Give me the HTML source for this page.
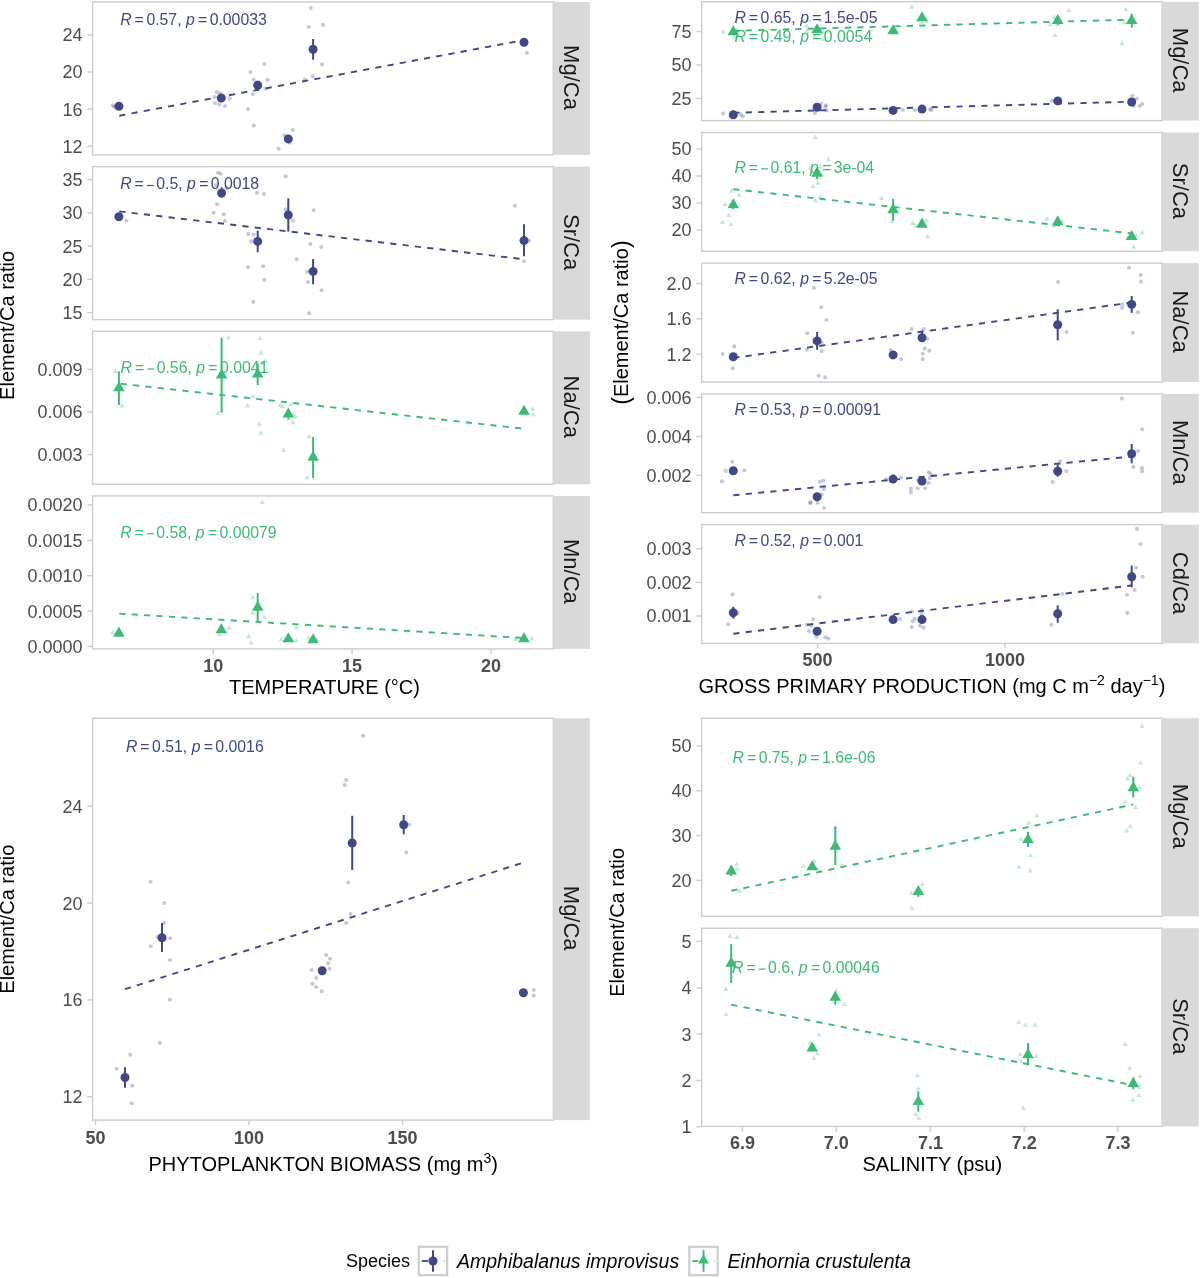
<!DOCTYPE html>
<html><head><meta charset="utf-8"><style>
html,body{margin:0;padding:0;background:#fff;}
svg{display:block;will-change:transform;}
text{font-family:'Liberation Sans', sans-serif;}
</style></head><body>
<svg width="1200" height="1278" viewBox="0 0 1200 1278">
<rect x="0" y="0" width="1200" height="1278" fill="#fff"/>
<rect x="92.6" y="2.0" width="460.69999999999993" height="152.95" fill="#fff" stroke="#CCCCCC" stroke-width="1.4"/>
<rect x="553.3" y="2.0" width="36.60000000000002" height="152.95" fill="#D9D9D9"/>
<text x="0" y="0" transform="translate(563.70,77.47) rotate(90)" text-anchor="middle" font-size="22" fill="#1A1A1A">Mg/Ca</text>
<rect x="92.6" y="166.65" width="460.69999999999993" height="152.95000000000002" fill="#fff" stroke="#CCCCCC" stroke-width="1.4"/>
<rect x="553.3" y="166.65" width="36.60000000000002" height="152.95000000000002" fill="#D9D9D9"/>
<text x="0" y="0" transform="translate(563.70,242.12) rotate(90)" text-anchor="middle" font-size="22" fill="#1A1A1A">Sr/Ca</text>
<rect x="92.6" y="331.3" width="460.69999999999993" height="152.95" fill="#fff" stroke="#CCCCCC" stroke-width="1.4"/>
<rect x="553.3" y="331.3" width="36.60000000000002" height="152.95" fill="#D9D9D9"/>
<text x="0" y="0" transform="translate(563.70,406.77) rotate(90)" text-anchor="middle" font-size="22" fill="#1A1A1A">Na/Ca</text>
<rect x="92.6" y="495.95" width="460.69999999999993" height="152.95" fill="#fff" stroke="#CCCCCC" stroke-width="1.4"/>
<rect x="553.3" y="495.95" width="36.60000000000002" height="152.95" fill="#D9D9D9"/>
<text x="0" y="0" transform="translate(563.70,571.42) rotate(90)" text-anchor="middle" font-size="22" fill="#1A1A1A">Mn/Ca</text>
<line x1="87.3" y1="34.9" x2="92.6" y2="34.9" stroke="#CCCCCC" stroke-width="1.4"/>
<text x="82.50" y="41.30" text-anchor="end" font-size="18" fill="#4D4D4D">24</text>
<line x1="87.3" y1="72.0" x2="92.6" y2="72.0" stroke="#CCCCCC" stroke-width="1.4"/>
<text x="82.50" y="78.40" text-anchor="end" font-size="18" fill="#4D4D4D">20</text>
<line x1="87.3" y1="109.1" x2="92.6" y2="109.1" stroke="#CCCCCC" stroke-width="1.4"/>
<text x="82.50" y="115.50" text-anchor="end" font-size="18" fill="#4D4D4D">16</text>
<line x1="87.3" y1="146.2" x2="92.6" y2="146.2" stroke="#CCCCCC" stroke-width="1.4"/>
<text x="82.50" y="152.60" text-anchor="end" font-size="18" fill="#4D4D4D">12</text>
<line x1="87.3" y1="179.6" x2="92.6" y2="179.6" stroke="#CCCCCC" stroke-width="1.4"/>
<text x="82.50" y="186.00" text-anchor="end" font-size="18" fill="#4D4D4D">35</text>
<line x1="87.3" y1="212.85" x2="92.6" y2="212.85" stroke="#CCCCCC" stroke-width="1.4"/>
<text x="82.50" y="219.25" text-anchor="end" font-size="18" fill="#4D4D4D">30</text>
<line x1="87.3" y1="246.1" x2="92.6" y2="246.1" stroke="#CCCCCC" stroke-width="1.4"/>
<text x="82.50" y="252.50" text-anchor="end" font-size="18" fill="#4D4D4D">25</text>
<line x1="87.3" y1="279.35" x2="92.6" y2="279.35" stroke="#CCCCCC" stroke-width="1.4"/>
<text x="82.50" y="285.75" text-anchor="end" font-size="18" fill="#4D4D4D">20</text>
<line x1="87.3" y1="312.6" x2="92.6" y2="312.6" stroke="#CCCCCC" stroke-width="1.4"/>
<text x="82.50" y="319.00" text-anchor="end" font-size="18" fill="#4D4D4D">15</text>
<line x1="87.3" y1="369.3" x2="92.6" y2="369.3" stroke="#CCCCCC" stroke-width="1.4"/>
<text x="82.50" y="375.70" text-anchor="end" font-size="18" fill="#4D4D4D">0.009</text>
<line x1="87.3" y1="411.95" x2="92.6" y2="411.95" stroke="#CCCCCC" stroke-width="1.4"/>
<text x="82.50" y="418.35" text-anchor="end" font-size="18" fill="#4D4D4D">0.006</text>
<line x1="87.3" y1="454.6" x2="92.6" y2="454.6" stroke="#CCCCCC" stroke-width="1.4"/>
<text x="82.50" y="461.00" text-anchor="end" font-size="18" fill="#4D4D4D">0.003</text>
<line x1="87.3" y1="504.9" x2="92.6" y2="504.9" stroke="#CCCCCC" stroke-width="1.4"/>
<text x="82.50" y="511.30" text-anchor="end" font-size="18" fill="#4D4D4D">0.0020</text>
<line x1="87.3" y1="540.3" x2="92.6" y2="540.3" stroke="#CCCCCC" stroke-width="1.4"/>
<text x="82.50" y="546.70" text-anchor="end" font-size="18" fill="#4D4D4D">0.0015</text>
<line x1="87.3" y1="575.7" x2="92.6" y2="575.7" stroke="#CCCCCC" stroke-width="1.4"/>
<text x="82.50" y="582.10" text-anchor="end" font-size="18" fill="#4D4D4D">0.0010</text>
<line x1="87.3" y1="611.1" x2="92.6" y2="611.1" stroke="#CCCCCC" stroke-width="1.4"/>
<text x="82.50" y="617.50" text-anchor="end" font-size="18" fill="#4D4D4D">0.0005</text>
<line x1="87.3" y1="646.5" x2="92.6" y2="646.5" stroke="#CCCCCC" stroke-width="1.4"/>
<text x="82.50" y="652.90" text-anchor="end" font-size="18" fill="#4D4D4D">0.0000</text>
<line x1="213.2" y1="648.9" x2="213.2" y2="654.1999999999999" stroke="#CCCCCC" stroke-width="1.4"/>
<text x="213.20" y="671.80" text-anchor="middle" font-size="18" font-weight="bold" fill="#4D4D4D">10</text>
<line x1="352.1" y1="648.9" x2="352.1" y2="654.1999999999999" stroke="#CCCCCC" stroke-width="1.4"/>
<text x="352.10" y="671.80" text-anchor="middle" font-size="18" font-weight="bold" fill="#4D4D4D">15</text>
<line x1="491.0" y1="648.9" x2="491.0" y2="654.1999999999999" stroke="#CCCCCC" stroke-width="1.4"/>
<text x="491.00" y="671.80" text-anchor="middle" font-size="18" font-weight="bold" fill="#4D4D4D">20</text>
<text x="324.5" y="693.6" text-anchor="middle" font-size="20" fill="#000">TEMPERATURE (°C)</text>
<text x="0" y="0" transform="translate(13.90,325.40) rotate(-90)" text-anchor="middle" font-size="20" fill="#000">Element/Ca ratio</text>
<line x1="119.3" y1="115.7" x2="524" y2="40.1" stroke="#404888" stroke-width="1.9" stroke-dasharray="6.2 6.2"/>
<circle cx="112.7" cy="105.3" r="2.05" fill="#404888" fill-opacity="0.3"/>
<circle cx="114" cy="107" r="2.05" fill="#404888" fill-opacity="0.3"/>
<circle cx="216.7" cy="92" r="2.05" fill="#404888" fill-opacity="0.3"/>
<circle cx="220" cy="93.3" r="2.05" fill="#404888" fill-opacity="0.3"/>
<circle cx="214.4" cy="97" r="2.05" fill="#404888" fill-opacity="0.3"/>
<circle cx="214.9" cy="103" r="2.05" fill="#404888" fill-opacity="0.3"/>
<circle cx="219.3" cy="104.4" r="2.05" fill="#404888" fill-opacity="0.3"/>
<circle cx="224.9" cy="106" r="2.05" fill="#404888" fill-opacity="0.3"/>
<circle cx="229.7" cy="98.4" r="2.05" fill="#404888" fill-opacity="0.3"/>
<circle cx="310.7" cy="8" r="2.05" fill="#404888" fill-opacity="0.3"/>
<circle cx="308.8" cy="27.1" r="2.05" fill="#404888" fill-opacity="0.3"/>
<circle cx="322.9" cy="24.9" r="2.05" fill="#404888" fill-opacity="0.3"/>
<circle cx="264.4" cy="64" r="2.05" fill="#404888" fill-opacity="0.3"/>
<circle cx="250.4" cy="72.1" r="2.05" fill="#404888" fill-opacity="0.3"/>
<circle cx="253.7" cy="79.7" r="2.05" fill="#404888" fill-opacity="0.3"/>
<circle cx="267.6" cy="79.9" r="2.05" fill="#404888" fill-opacity="0.3"/>
<circle cx="266.1" cy="88.7" r="2.05" fill="#404888" fill-opacity="0.3"/>
<circle cx="252.9" cy="94" r="2.05" fill="#404888" fill-opacity="0.3"/>
<circle cx="248" cy="109.1" r="2.05" fill="#404888" fill-opacity="0.3"/>
<circle cx="253.7" cy="125.6" r="2.05" fill="#404888" fill-opacity="0.3"/>
<circle cx="322.1" cy="64.4" r="2.05" fill="#404888" fill-opacity="0.3"/>
<circle cx="312.7" cy="76.4" r="2.05" fill="#404888" fill-opacity="0.3"/>
<circle cx="304.9" cy="79.6" r="2.05" fill="#404888" fill-opacity="0.3"/>
<circle cx="292.9" cy="130" r="2.05" fill="#404888" fill-opacity="0.3"/>
<circle cx="284.4" cy="135.3" r="2.05" fill="#404888" fill-opacity="0.3"/>
<circle cx="289.6" cy="142.7" r="2.05" fill="#404888" fill-opacity="0.3"/>
<circle cx="278.7" cy="148.7" r="2.05" fill="#404888" fill-opacity="0.3"/>
<circle cx="526.9" cy="52.9" r="2.05" fill="#404888" fill-opacity="0.3"/>
<circle cx="118.9" cy="106.3" r="4.5" fill="#404888"/>
<circle cx="221.3" cy="98" r="4.5" fill="#404888"/>
<line x1="257.7" y1="80.7" x2="257.7" y2="90.7" stroke="#404888" stroke-width="2"/>
<circle cx="257.7" cy="85.3" r="4.5" fill="#404888"/>
<line x1="313.1" y1="39" x2="313.1" y2="59.7" stroke="#404888" stroke-width="2"/>
<circle cx="313.1" cy="49.3" r="4.5" fill="#404888"/>
<circle cx="288.3" cy="138.9" r="4.5" fill="#404888"/>
<circle cx="524" cy="42.3" r="4.5" fill="#404888"/>
<text y="24.7" font-size="15.8" fill="#404888"><tspan x="120.20" font-style="italic">R</tspan><tspan x="134.60">=</tspan><tspan x="146.40">0.57,</tspan><tspan x="185.94" font-style="italic">p</tspan><tspan x="198.03">=</tspan><tspan x="209.66">0.00033</tspan></text>
<line x1="119.3" y1="211.4" x2="524" y2="259.3" stroke="#404888" stroke-width="1.9" stroke-dasharray="6.2 6.2"/>
<circle cx="126.4" cy="220.7" r="2.05" fill="#404888" fill-opacity="0.3"/>
<circle cx="218" cy="172.7" r="2.05" fill="#404888" fill-opacity="0.3"/>
<circle cx="220.7" cy="173.7" r="2.05" fill="#404888" fill-opacity="0.3"/>
<circle cx="216" cy="185" r="2.05" fill="#404888" fill-opacity="0.3"/>
<circle cx="226.7" cy="188.3" r="2.05" fill="#404888" fill-opacity="0.3"/>
<circle cx="217" cy="204.3" r="2.05" fill="#404888" fill-opacity="0.3"/>
<circle cx="213.6" cy="212.7" r="2.05" fill="#404888" fill-opacity="0.3"/>
<circle cx="223.7" cy="214.3" r="2.05" fill="#404888" fill-opacity="0.3"/>
<circle cx="224.9" cy="220.7" r="2.05" fill="#404888" fill-opacity="0.3"/>
<circle cx="248.3" cy="233.9" r="2.05" fill="#404888" fill-opacity="0.3"/>
<circle cx="253.6" cy="234.6" r="2.05" fill="#404888" fill-opacity="0.3"/>
<circle cx="251.1" cy="241.4" r="2.05" fill="#404888" fill-opacity="0.3"/>
<circle cx="248" cy="267.3" r="2.05" fill="#404888" fill-opacity="0.3"/>
<circle cx="263.1" cy="266.3" r="2.05" fill="#404888" fill-opacity="0.3"/>
<circle cx="264.4" cy="279.7" r="2.05" fill="#404888" fill-opacity="0.3"/>
<circle cx="253.3" cy="301.9" r="2.05" fill="#404888" fill-opacity="0.3"/>
<circle cx="285.7" cy="176.3" r="2.05" fill="#404888" fill-opacity="0.3"/>
<circle cx="257.1" cy="193" r="2.05" fill="#404888" fill-opacity="0.3"/>
<circle cx="264" cy="193.9" r="2.05" fill="#404888" fill-opacity="0.3"/>
<circle cx="285.7" cy="209.4" r="2.05" fill="#404888" fill-opacity="0.3"/>
<circle cx="292.9" cy="220.6" r="2.05" fill="#404888" fill-opacity="0.3"/>
<circle cx="313.7" cy="210.3" r="2.05" fill="#404888" fill-opacity="0.3"/>
<circle cx="310.3" cy="244.1" r="2.05" fill="#404888" fill-opacity="0.3"/>
<circle cx="321.3" cy="247" r="2.05" fill="#404888" fill-opacity="0.3"/>
<circle cx="296.7" cy="259.3" r="2.05" fill="#404888" fill-opacity="0.3"/>
<circle cx="307.3" cy="271.7" r="2.05" fill="#404888" fill-opacity="0.3"/>
<circle cx="308" cy="282.1" r="2.05" fill="#404888" fill-opacity="0.3"/>
<circle cx="321.6" cy="290.3" r="2.05" fill="#404888" fill-opacity="0.3"/>
<circle cx="309.1" cy="313.3" r="2.05" fill="#404888" fill-opacity="0.3"/>
<circle cx="514.9" cy="205.7" r="2.05" fill="#404888" fill-opacity="0.3"/>
<circle cx="524" cy="261.3" r="2.05" fill="#404888" fill-opacity="0.3"/>
<circle cx="529" cy="240.6" r="2.05" fill="#404888" fill-opacity="0.3"/>
<circle cx="118.9" cy="216.7" r="4.5" fill="#404888"/>
<line x1="221.6" y1="188.7" x2="221.6" y2="197.7" stroke="#404888" stroke-width="2"/>
<circle cx="221.6" cy="193" r="4.5" fill="#404888"/>
<line x1="257.7" y1="230.7" x2="257.7" y2="252.3" stroke="#404888" stroke-width="2"/>
<circle cx="257.7" cy="241.4" r="4.5" fill="#404888"/>
<line x1="288.3" y1="198.3" x2="288.3" y2="231.7" stroke="#404888" stroke-width="2"/>
<circle cx="288.3" cy="215" r="4.5" fill="#404888"/>
<line x1="313.1" y1="259" x2="313.1" y2="284.3" stroke="#404888" stroke-width="2"/>
<circle cx="313.1" cy="271.4" r="4.5" fill="#404888"/>
<line x1="524" y1="224.3" x2="524" y2="256.3" stroke="#404888" stroke-width="2"/>
<circle cx="524" cy="240.6" r="4.5" fill="#404888"/>
<line x1="147.00" y1="185.50" x2="153.80" y2="185.50" stroke="#404888" stroke-width="1.2"/>
<text y="189.4" font-size="15.8" fill="#404888"><tspan x="120.20" font-style="italic">R</tspan><tspan x="134.60">=</tspan><tspan x="156.30">0.5,</tspan><tspan x="187.05" font-style="italic">p</tspan><tspan x="199.14">=</tspan><tspan x="210.77">0.0018</tspan></text>
<line x1="120.7" y1="383.7" x2="524" y2="428.8" stroke="#3BBB75" stroke-width="1.9" stroke-dasharray="6.2 6.2"/>
<path d="M115.30,368.37L117.98,373.02L112.62,373.02ZM122.00,402.77L124.68,407.43L119.32,407.43ZM228.30,334.77L230.98,339.43L225.62,339.43ZM218.00,410.37L220.68,415.02L215.32,415.02ZM247.70,402.77L250.38,407.43L245.02,407.43ZM260.00,335.67L262.68,340.32L257.32,340.32ZM260.90,350.07L263.58,354.72L258.22,354.72ZM265.70,358.07L268.38,362.72L263.02,362.72ZM262.00,360.07L264.68,364.72L259.32,364.72ZM252.90,393.37L255.58,398.02L250.22,398.02ZM259.30,421.37L261.98,426.02L256.62,426.02ZM260.70,430.07L263.38,434.72L258.02,434.72ZM280.00,402.37L282.68,407.02L277.32,407.02ZM282.40,403.27L285.08,407.93L279.72,407.93ZM291.10,401.67L293.78,406.32L288.42,406.32ZM293.30,411.67L295.98,416.32L290.62,416.32ZM295.70,413.97L298.38,418.62L293.02,418.62ZM292.90,419.67L295.58,424.32L290.22,424.32ZM283.60,447.27L286.28,451.93L280.92,451.93ZM309.30,433.67L311.98,438.32L306.62,438.32ZM307.30,474.97L309.98,479.62L304.62,479.62ZM532.70,406.37L535.38,411.02L530.02,411.02ZM533.30,411.67L535.98,416.32L530.62,416.32Z" fill="#3BBB75" fill-opacity="0.3"/>
<line x1="118.9" y1="371.3" x2="118.9" y2="405.1" stroke="#3BBB75" stroke-width="2"/>
<path d="M118.90,381.20L124.70,391.25L113.10,391.25Z" fill="#3BBB75"/>
<line x1="221.6" y1="337.6" x2="221.6" y2="412.7" stroke="#3BBB75" stroke-width="2"/>
<path d="M221.60,368.40L227.40,378.45L215.80,378.45Z" fill="#3BBB75"/>
<line x1="257.7" y1="363.5" x2="257.7" y2="385.1" stroke="#3BBB75" stroke-width="2"/>
<path d="M257.70,367.50L263.50,377.55L251.90,377.55Z" fill="#3BBB75"/>
<line x1="288.3" y1="409" x2="288.3" y2="419.7" stroke="#3BBB75" stroke-width="2"/>
<path d="M288.30,407.50L294.10,417.55L282.50,417.55Z" fill="#3BBB75"/>
<line x1="313.1" y1="437.1" x2="313.1" y2="478" stroke="#3BBB75" stroke-width="2"/>
<path d="M313.10,450.60L318.90,460.65L307.30,460.65Z" fill="#3BBB75"/>
<path d="M524.00,404.80L529.80,414.85L518.20,414.85Z" fill="#3BBB75"/>
<line x1="147.40" y1="369.00" x2="154.20" y2="369.00" stroke="#3BBB75" stroke-width="1.2"/>
<text y="372.9" font-size="15.8" fill="#3BBB75"><tspan x="120.60" font-style="italic">R</tspan><tspan x="135.00">=</tspan><tspan x="156.70">0.56,</tspan><tspan x="196.24" font-style="italic">p</tspan><tspan x="208.33">=</tspan><tspan x="219.96">0.0041</tspan></text>
<line x1="119.3" y1="613.6" x2="524" y2="638" stroke="#3BBB75" stroke-width="1.9" stroke-dasharray="6.2 6.2"/>
<path d="M112.70,629.67L115.38,634.32L110.02,634.32ZM229.10,624.97L231.78,629.62L226.42,629.62ZM219.30,631.67L221.98,636.32L216.62,636.32ZM248.70,633.67L251.38,638.32L246.02,638.32ZM252.70,594.97L255.38,599.62L250.02,599.62ZM252.70,610.38L255.38,615.02L250.02,615.02ZM264.40,614.77L267.08,619.42L261.72,619.42ZM262.30,499.27L264.98,503.93L259.62,503.93ZM248.70,535.67L251.38,540.32L246.02,540.32ZM248.70,633.27L251.38,637.92L246.02,637.92ZM251.30,639.97L253.98,644.62L248.62,644.62ZM296.30,624.57L298.98,629.22L293.62,629.22ZM281.30,636.38L283.98,641.02L278.62,641.02ZM292.00,636.38L294.68,641.02L289.32,641.02ZM296.00,637.67L298.68,642.32L293.32,642.32ZM308.70,634.97L311.38,639.62L306.02,639.62ZM316.00,636.38L318.68,641.02L313.32,641.02ZM515.30,636.38L517.98,641.02L512.62,641.02ZM532.00,635.67L534.68,640.32L529.32,640.32Z" fill="#3BBB75" fill-opacity="0.3"/>
<path d="M118.90,626.60L124.70,636.65L113.10,636.65Z" fill="#3BBB75"/>
<path d="M221.30,623.20L227.10,633.25L215.50,633.25Z" fill="#3BBB75"/>
<line x1="257.7" y1="593.1" x2="257.7" y2="622" stroke="#3BBB75" stroke-width="2"/>
<path d="M257.70,600.80L263.50,610.85L251.90,610.85Z" fill="#3BBB75"/>
<path d="M288.30,632.30L294.10,642.35L282.50,642.35Z" fill="#3BBB75"/>
<path d="M313.10,633.20L318.90,643.25L307.30,643.25Z" fill="#3BBB75"/>
<path d="M524.00,632.30L529.80,642.35L518.20,642.35Z" fill="#3BBB75"/>
<line x1="147.00" y1="533.70" x2="153.80" y2="533.70" stroke="#3BBB75" stroke-width="1.2"/>
<text y="537.6" font-size="15.8" fill="#3BBB75"><tspan x="120.20" font-style="italic">R</tspan><tspan x="134.60">=</tspan><tspan x="156.30">0.58,</tspan><tspan x="195.84" font-style="italic">p</tspan><tspan x="207.93">=</tspan><tspan x="219.56">0.00079</tspan></text>
<rect x="701.7" y="1.8" width="460.39999999999986" height="118.8" fill="#fff" stroke="#CCCCCC" stroke-width="1.4"/>
<rect x="1162.5" y="1.8" width="36.299999999999955" height="118.8" fill="#D9D9D9"/>
<text x="0" y="0" transform="translate(1172.75,60.20) rotate(90)" text-anchor="middle" font-size="22" fill="#1A1A1A">Mg/Ca</text>
<rect x="701.7" y="132.5" width="460.39999999999986" height="118.80000000000001" fill="#fff" stroke="#CCCCCC" stroke-width="1.4"/>
<rect x="1162.5" y="132.5" width="36.299999999999955" height="118.80000000000001" fill="#D9D9D9"/>
<text x="0" y="0" transform="translate(1172.75,190.90) rotate(90)" text-anchor="middle" font-size="22" fill="#1A1A1A">Sr/Ca</text>
<rect x="701.7" y="263.2" width="460.39999999999986" height="118.80000000000001" fill="#fff" stroke="#CCCCCC" stroke-width="1.4"/>
<rect x="1162.5" y="263.2" width="36.299999999999955" height="118.80000000000001" fill="#D9D9D9"/>
<text x="0" y="0" transform="translate(1172.75,321.60) rotate(90)" text-anchor="middle" font-size="22" fill="#1A1A1A">Na/Ca</text>
<rect x="701.7" y="393.9" width="460.39999999999986" height="118.80000000000007" fill="#fff" stroke="#CCCCCC" stroke-width="1.4"/>
<rect x="1162.5" y="393.9" width="36.299999999999955" height="118.80000000000007" fill="#D9D9D9"/>
<text x="0" y="0" transform="translate(1172.75,452.30) rotate(90)" text-anchor="middle" font-size="22" fill="#1A1A1A">Mn/Ca</text>
<rect x="701.7" y="524.6" width="460.39999999999986" height="118.79999999999995" fill="#fff" stroke="#CCCCCC" stroke-width="1.4"/>
<rect x="1162.5" y="524.6" width="36.299999999999955" height="118.79999999999995" fill="#D9D9D9"/>
<text x="0" y="0" transform="translate(1172.75,583.00) rotate(90)" text-anchor="middle" font-size="22" fill="#1A1A1A">Cd/Ca</text>
<line x1="696.4000000000001" y1="31.5" x2="701.7" y2="31.5" stroke="#CCCCCC" stroke-width="1.4"/>
<text x="691.60" y="37.90" text-anchor="end" font-size="18" fill="#4D4D4D">75</text>
<line x1="696.4000000000001" y1="64.95" x2="701.7" y2="64.95" stroke="#CCCCCC" stroke-width="1.4"/>
<text x="691.60" y="71.35" text-anchor="end" font-size="18" fill="#4D4D4D">50</text>
<line x1="696.4000000000001" y1="98.4" x2="701.7" y2="98.4" stroke="#CCCCCC" stroke-width="1.4"/>
<text x="691.60" y="104.80" text-anchor="end" font-size="18" fill="#4D4D4D">25</text>
<line x1="696.4000000000001" y1="149.0" x2="701.7" y2="149.0" stroke="#CCCCCC" stroke-width="1.4"/>
<text x="691.60" y="155.40" text-anchor="end" font-size="18" fill="#4D4D4D">50</text>
<line x1="696.4000000000001" y1="176.0" x2="701.7" y2="176.0" stroke="#CCCCCC" stroke-width="1.4"/>
<text x="691.60" y="182.40" text-anchor="end" font-size="18" fill="#4D4D4D">40</text>
<line x1="696.4000000000001" y1="203.0" x2="701.7" y2="203.0" stroke="#CCCCCC" stroke-width="1.4"/>
<text x="691.60" y="209.40" text-anchor="end" font-size="18" fill="#4D4D4D">30</text>
<line x1="696.4000000000001" y1="230.0" x2="701.7" y2="230.0" stroke="#CCCCCC" stroke-width="1.4"/>
<text x="691.60" y="236.40" text-anchor="end" font-size="18" fill="#4D4D4D">20</text>
<line x1="696.4000000000001" y1="283.5" x2="701.7" y2="283.5" stroke="#CCCCCC" stroke-width="1.4"/>
<text x="691.60" y="289.90" text-anchor="end" font-size="18" fill="#4D4D4D">2.0</text>
<line x1="696.4000000000001" y1="318.85" x2="701.7" y2="318.85" stroke="#CCCCCC" stroke-width="1.4"/>
<text x="691.60" y="325.25" text-anchor="end" font-size="18" fill="#4D4D4D">1.6</text>
<line x1="696.4000000000001" y1="354.2" x2="701.7" y2="354.2" stroke="#CCCCCC" stroke-width="1.4"/>
<text x="691.60" y="360.60" text-anchor="end" font-size="18" fill="#4D4D4D">1.2</text>
<line x1="696.4000000000001" y1="397.5" x2="701.7" y2="397.5" stroke="#CCCCCC" stroke-width="1.4"/>
<text x="691.60" y="403.90" text-anchor="end" font-size="18" fill="#4D4D4D">0.006</text>
<line x1="696.4000000000001" y1="436.45" x2="701.7" y2="436.45" stroke="#CCCCCC" stroke-width="1.4"/>
<text x="691.60" y="442.85" text-anchor="end" font-size="18" fill="#4D4D4D">0.004</text>
<line x1="696.4000000000001" y1="475.4" x2="701.7" y2="475.4" stroke="#CCCCCC" stroke-width="1.4"/>
<text x="691.60" y="481.80" text-anchor="end" font-size="18" fill="#4D4D4D">0.002</text>
<line x1="696.4000000000001" y1="548.8" x2="701.7" y2="548.8" stroke="#CCCCCC" stroke-width="1.4"/>
<text x="691.60" y="555.20" text-anchor="end" font-size="18" fill="#4D4D4D">0.003</text>
<line x1="696.4000000000001" y1="582.4" x2="701.7" y2="582.4" stroke="#CCCCCC" stroke-width="1.4"/>
<text x="691.60" y="588.80" text-anchor="end" font-size="18" fill="#4D4D4D">0.002</text>
<line x1="696.4000000000001" y1="616.0" x2="701.7" y2="616.0" stroke="#CCCCCC" stroke-width="1.4"/>
<text x="691.60" y="622.40" text-anchor="end" font-size="18" fill="#4D4D4D">0.001</text>
<line x1="817.6" y1="643.4" x2="817.6" y2="648.6999999999999" stroke="#CCCCCC" stroke-width="1.4"/>
<text x="817.60" y="666.20" text-anchor="middle" font-size="18" font-weight="bold" fill="#4D4D4D">500</text>
<line x1="1005.0" y1="643.4" x2="1005.0" y2="648.6999999999999" stroke="#CCCCCC" stroke-width="1.4"/>
<text x="1005.00" y="666.20" text-anchor="middle" font-size="18" font-weight="bold" fill="#4D4D4D">1000</text>
<text x="931.9" y="692.75" text-anchor="middle" font-size="20" fill="#000">GROSS PRIMARY PRODUCTION (mg C m<tspan font-size="14" dy="-8">−2</tspan><tspan dy="8"> day</tspan><tspan font-size="14" dy="-8">−1</tspan><tspan dy="8">)</tspan></text>
<text x="0" y="0" transform="translate(628.2,322.6) rotate(-90)" text-anchor="middle" font-size="20" fill="#000"><tspan font-size="23" dy="1">(</tspan><tspan dy="-1">Element/Ca ratio</tspan><tspan font-size="23" dy="1">)</tspan></text>
<line x1="733.3" y1="30.9" x2="1131.7" y2="19.6" stroke="#3BBB75" stroke-width="1.9" stroke-dasharray="6.2 6.2"/>
<line x1="733.3" y1="112.8" x2="1131.7" y2="101.7" stroke="#404888" stroke-width="1.9" stroke-dasharray="6.2 6.2"/>
<circle cx="723.1" cy="113.6" r="2.05" fill="#404888" fill-opacity="0.3"/>
<circle cx="740.7" cy="114.4" r="2.05" fill="#404888" fill-opacity="0.3"/>
<circle cx="742.9" cy="116.3" r="2.05" fill="#404888" fill-opacity="0.3"/>
<circle cx="821.3" cy="103.7" r="2.05" fill="#404888" fill-opacity="0.3"/>
<circle cx="826" cy="105.3" r="2.05" fill="#404888" fill-opacity="0.3"/>
<circle cx="825.3" cy="106.7" r="2.05" fill="#404888" fill-opacity="0.3"/>
<circle cx="826.7" cy="110.4" r="2.05" fill="#404888" fill-opacity="0.3"/>
<circle cx="815" cy="113.1" r="2.05" fill="#404888" fill-opacity="0.3"/>
<circle cx="902.9" cy="110" r="2.05" fill="#404888" fill-opacity="0.3"/>
<circle cx="914.7" cy="110" r="2.05" fill="#404888" fill-opacity="0.3"/>
<circle cx="930" cy="109.1" r="2.05" fill="#404888" fill-opacity="0.3"/>
<circle cx="931.3" cy="110" r="2.05" fill="#404888" fill-opacity="0.3"/>
<circle cx="1051.9" cy="100.7" r="2.05" fill="#404888" fill-opacity="0.3"/>
<circle cx="1132.3" cy="95.7" r="2.05" fill="#404888" fill-opacity="0.3"/>
<circle cx="1136.7" cy="98.7" r="2.05" fill="#404888" fill-opacity="0.3"/>
<circle cx="1133.7" cy="106" r="2.05" fill="#404888" fill-opacity="0.3"/>
<circle cx="1139.7" cy="106" r="2.05" fill="#404888" fill-opacity="0.3"/>
<circle cx="1142.3" cy="104" r="2.05" fill="#404888" fill-opacity="0.3"/>
<circle cx="733.3" cy="114.7" r="4.5" fill="#404888"/>
<circle cx="817.1" cy="107.2" r="4.5" fill="#404888"/>
<circle cx="893.1" cy="110.4" r="4.5" fill="#404888"/>
<circle cx="922" cy="109.1" r="4.5" fill="#404888"/>
<circle cx="1057.7" cy="100.9" r="4.5" fill="#404888"/>
<circle cx="1131.7" cy="102" r="4.5" fill="#404888"/>
<path d="M723.30,28.98L725.98,33.62L720.62,33.62ZM737.30,27.67L739.98,32.32L734.62,32.32ZM734.00,34.38L736.68,39.02L731.32,39.02ZM809.30,17.67L811.98,22.32L806.62,22.32ZM806.70,22.97L809.38,27.62L804.02,27.62ZM806.70,28.37L809.38,33.02L804.02,33.02ZM820.70,17.67L823.38,22.32L818.02,22.32ZM823.30,29.67L825.98,34.32L820.62,34.32ZM823.30,36.38L825.98,41.02L820.62,41.02ZM814.70,33.67L817.38,38.32L812.02,38.32ZM911.70,4.08L914.38,8.73L909.02,8.73ZM897.30,28.37L899.98,33.02L894.62,33.02ZM922.00,12.38L924.68,17.02L919.32,17.02ZM926.70,18.37L929.38,23.02L924.02,23.02ZM922.00,19.67L924.68,24.32L919.32,24.32ZM1068.60,7.68L1071.28,12.33L1065.92,12.33ZM1054.30,14.37L1056.98,19.02L1051.62,19.02ZM1050.30,21.67L1052.98,26.32L1047.62,26.32ZM1055.00,32.38L1057.68,37.02L1052.32,37.02ZM1125.70,6.78L1128.38,11.43L1123.02,11.43ZM1124.30,19.67L1126.98,24.32L1121.62,24.32ZM1122.10,40.57L1124.78,45.22L1119.42,45.22Z" fill="#3BBB75" fill-opacity="0.3"/>
<path d="M733.30,25.20L739.10,35.25L727.50,35.25Z" fill="#3BBB75"/>
<path d="M817.10,23.20L822.90,33.25L811.30,33.25Z" fill="#3BBB75"/>
<path d="M893.10,24.30L898.90,34.35L887.30,34.35Z" fill="#3BBB75"/>
<path d="M922.00,11.20L927.80,21.25L916.20,21.25Z" fill="#3BBB75"/>
<line x1="1057.7" y1="16" x2="1057.7" y2="25.3" stroke="#3BBB75" stroke-width="2"/>
<path d="M1057.70,13.90L1063.50,23.95L1051.90,23.95Z" fill="#3BBB75"/>
<line x1="1131.7" y1="13.7" x2="1131.7" y2="27.7" stroke="#3BBB75" stroke-width="2"/>
<path d="M1131.70,13.90L1137.50,23.95L1125.90,23.95Z" fill="#3BBB75"/>
<text y="22.7" font-size="15.8" fill="#404888"><tspan x="734.40" font-style="italic">R</tspan><tspan x="748.80">=</tspan><tspan x="760.60">0.65,</tspan><tspan x="800.14" font-style="italic">p</tspan><tspan x="812.23">=</tspan><tspan x="823.86">1.5e-05</tspan></text>
<text y="42.4" font-size="15.8" fill="#3BBB75"><tspan x="734.40" font-style="italic">R</tspan><tspan x="748.80">=</tspan><tspan x="760.60">0.49,</tspan><tspan x="800.14" font-style="italic">p</tspan><tspan x="812.23">=</tspan><tspan x="823.86">0.0054</tspan></text>
<line x1="733.3" y1="189.2" x2="1131.7" y2="233.4" stroke="#3BBB75" stroke-width="1.9" stroke-dasharray="6.2 6.2"/>
<path d="M815.30,134.38L817.98,139.03L812.62,139.03ZM828.30,156.38L830.98,161.03L825.62,161.03ZM810.00,165.68L812.68,170.33L807.32,170.33ZM820.70,163.68L823.38,168.33L818.02,168.33ZM821.30,171.68L823.98,176.33L818.62,176.33ZM818.00,180.08L820.68,184.73L815.32,184.73ZM813.10,183.28L815.78,187.93L810.42,187.93ZM820.00,194.38L822.68,199.03L817.32,199.03ZM815.30,197.68L817.98,202.33L812.62,202.33ZM731.60,188.08L734.28,192.73L728.92,192.73ZM739.30,192.38L741.98,197.03L736.62,197.03ZM725.10,201.38L727.78,206.03L722.42,206.03ZM728.90,212.38L731.58,217.03L726.22,217.03ZM722.40,219.38L725.08,224.03L719.72,224.03ZM731.10,221.38L733.78,226.03L728.42,226.03ZM881.60,195.28L884.28,199.93L878.92,199.93ZM891.70,218.38L894.38,223.03L889.02,223.03ZM912.90,220.38L915.58,225.03L910.22,225.03ZM916.00,222.98L918.68,227.63L913.32,227.63ZM926.70,217.68L929.38,222.33L924.02,222.33ZM927.60,233.38L930.28,238.03L924.92,238.03ZM1047.00,216.08L1049.68,220.73L1044.32,220.73ZM1062.10,218.98L1064.78,223.63L1059.42,223.63ZM1053.70,222.98L1056.38,227.63L1051.02,227.63ZM1142.30,229.68L1144.98,234.33L1139.62,234.33ZM1136.30,232.98L1138.98,237.63L1133.62,237.63ZM1127.70,234.98L1130.38,239.63L1125.02,239.63ZM1133.70,244.08L1136.38,248.73L1131.02,248.73Z" fill="#3BBB75" fill-opacity="0.3"/>
<line x1="733.3" y1="201" x2="733.3" y2="209.3" stroke="#3BBB75" stroke-width="2"/>
<path d="M733.30,198.30L739.10,208.35L727.50,208.35Z" fill="#3BBB75"/>
<line x1="817.1" y1="168" x2="817.1" y2="179.3" stroke="#3BBB75" stroke-width="2"/>
<path d="M817.10,166.60L822.90,176.65L811.30,176.65Z" fill="#3BBB75"/>
<line x1="893.1" y1="198.7" x2="893.1" y2="220.7" stroke="#3BBB75" stroke-width="2"/>
<path d="M893.10,203.10L898.90,213.15L887.30,213.15Z" fill="#3BBB75"/>
<path d="M922.00,217.60L927.80,227.65L916.20,227.65Z" fill="#3BBB75"/>
<path d="M1057.70,215.20L1063.50,225.25L1051.90,225.25Z" fill="#3BBB75"/>
<path d="M1131.70,230.00L1137.50,240.05L1125.90,240.05Z" fill="#3BBB75"/>
<line x1="761.20" y1="168.80" x2="768.00" y2="168.80" stroke="#3BBB75" stroke-width="1.2"/>
<text y="172.7" font-size="15.8" fill="#3BBB75"><tspan x="734.40" font-style="italic">R</tspan><tspan x="748.80">=</tspan><tspan x="770.50">0.61,</tspan><tspan x="810.04" font-style="italic">p</tspan><tspan x="822.13">=</tspan><tspan x="833.76">3e-04</tspan></text>
<line x1="733.3" y1="357.9" x2="1131.7" y2="302.5" stroke="#404888" stroke-width="1.9" stroke-dasharray="6.2 6.2"/>
<circle cx="722.7" cy="354" r="2.05" fill="#404888" fill-opacity="0.3"/>
<circle cx="734.3" cy="346.4" r="2.05" fill="#404888" fill-opacity="0.3"/>
<circle cx="732.7" cy="368.4" r="2.05" fill="#404888" fill-opacity="0.3"/>
<circle cx="814" cy="288" r="2.05" fill="#404888" fill-opacity="0.3"/>
<circle cx="821.3" cy="307.3" r="2.05" fill="#404888" fill-opacity="0.3"/>
<circle cx="826.4" cy="320" r="2.05" fill="#404888" fill-opacity="0.3"/>
<circle cx="807.1" cy="333.3" r="2.05" fill="#404888" fill-opacity="0.3"/>
<circle cx="821.6" cy="342.7" r="2.05" fill="#404888" fill-opacity="0.3"/>
<circle cx="806.9" cy="349.7" r="2.05" fill="#404888" fill-opacity="0.3"/>
<circle cx="821.7" cy="351.1" r="2.05" fill="#404888" fill-opacity="0.3"/>
<circle cx="818.7" cy="375.7" r="2.05" fill="#404888" fill-opacity="0.3"/>
<circle cx="825.1" cy="377.3" r="2.05" fill="#404888" fill-opacity="0.3"/>
<circle cx="890.7" cy="350" r="2.05" fill="#404888" fill-opacity="0.3"/>
<circle cx="901.1" cy="359.1" r="2.05" fill="#404888" fill-opacity="0.3"/>
<circle cx="911.7" cy="329.1" r="2.05" fill="#404888" fill-opacity="0.3"/>
<circle cx="923.6" cy="329.1" r="2.05" fill="#404888" fill-opacity="0.3"/>
<circle cx="927.1" cy="338.7" r="2.05" fill="#404888" fill-opacity="0.3"/>
<circle cx="924.7" cy="348.4" r="2.05" fill="#404888" fill-opacity="0.3"/>
<circle cx="929.3" cy="350.7" r="2.05" fill="#404888" fill-opacity="0.3"/>
<circle cx="922.7" cy="353.7" r="2.05" fill="#404888" fill-opacity="0.3"/>
<circle cx="922.7" cy="359.1" r="2.05" fill="#404888" fill-opacity="0.3"/>
<circle cx="1058.1" cy="282" r="2.05" fill="#404888" fill-opacity="0.3"/>
<circle cx="1066.6" cy="332" r="2.05" fill="#404888" fill-opacity="0.3"/>
<circle cx="1129" cy="267.7" r="2.05" fill="#404888" fill-opacity="0.3"/>
<circle cx="1140.7" cy="274.9" r="2.05" fill="#404888" fill-opacity="0.3"/>
<circle cx="1141" cy="281.6" r="2.05" fill="#404888" fill-opacity="0.3"/>
<circle cx="1122.1" cy="304.4" r="2.05" fill="#404888" fill-opacity="0.3"/>
<circle cx="1122.1" cy="308" r="2.05" fill="#404888" fill-opacity="0.3"/>
<circle cx="1137.9" cy="312.3" r="2.05" fill="#404888" fill-opacity="0.3"/>
<circle cx="1133" cy="332.7" r="2.05" fill="#404888" fill-opacity="0.3"/>
<circle cx="733.3" cy="356.7" r="4.5" fill="#404888"/>
<line x1="817.1" y1="332" x2="817.1" y2="349.7" stroke="#404888" stroke-width="2"/>
<circle cx="817.1" cy="340.9" r="4.5" fill="#404888"/>
<circle cx="893.1" cy="354.9" r="4.5" fill="#404888"/>
<line x1="922" y1="330.7" x2="922" y2="341" stroke="#404888" stroke-width="2"/>
<circle cx="922" cy="337.7" r="4.5" fill="#404888"/>
<line x1="1057.7" y1="309.3" x2="1057.7" y2="340.4" stroke="#404888" stroke-width="2"/>
<circle cx="1057.7" cy="324.7" r="4.5" fill="#404888"/>
<line x1="1131.7" y1="296" x2="1131.7" y2="312.9" stroke="#404888" stroke-width="2"/>
<circle cx="1131.7" cy="304.4" r="4.5" fill="#404888"/>
<text y="284" font-size="15.8" fill="#404888"><tspan x="734.40" font-style="italic">R</tspan><tspan x="748.80">=</tspan><tspan x="760.60">0.62,</tspan><tspan x="800.14" font-style="italic">p</tspan><tspan x="812.23">=</tspan><tspan x="823.86">5.2e-05</tspan></text>
<line x1="733.3" y1="495.3" x2="1131.7" y2="456.5" stroke="#404888" stroke-width="1.9" stroke-dasharray="6.2 6.2"/>
<circle cx="732.3" cy="461.7" r="2.05" fill="#404888" fill-opacity="0.3"/>
<circle cx="725.7" cy="470.9" r="2.05" fill="#404888" fill-opacity="0.3"/>
<circle cx="744.3" cy="470.3" r="2.05" fill="#404888" fill-opacity="0.3"/>
<circle cx="722" cy="481.3" r="2.05" fill="#404888" fill-opacity="0.3"/>
<circle cx="819.7" cy="481.7" r="2.05" fill="#404888" fill-opacity="0.3"/>
<circle cx="823.3" cy="480.7" r="2.05" fill="#404888" fill-opacity="0.3"/>
<circle cx="823.7" cy="489.1" r="2.05" fill="#404888" fill-opacity="0.3"/>
<circle cx="821.7" cy="494.4" r="2.05" fill="#404888" fill-opacity="0.3"/>
<circle cx="810.7" cy="502.4" r="2.05" fill="#404888" fill-opacity="0.3"/>
<circle cx="810" cy="502.9" r="2.05" fill="#404888" fill-opacity="0.3"/>
<circle cx="817.6" cy="502.7" r="2.05" fill="#404888" fill-opacity="0.3"/>
<circle cx="824" cy="508" r="2.05" fill="#404888" fill-opacity="0.3"/>
<circle cx="886" cy="479.3" r="2.05" fill="#404888" fill-opacity="0.3"/>
<circle cx="901.1" cy="477.6" r="2.05" fill="#404888" fill-opacity="0.3"/>
<circle cx="928.9" cy="472.3" r="2.05" fill="#404888" fill-opacity="0.3"/>
<circle cx="930.7" cy="474.4" r="2.05" fill="#404888" fill-opacity="0.3"/>
<circle cx="929.7" cy="478" r="2.05" fill="#404888" fill-opacity="0.3"/>
<circle cx="928.7" cy="482.7" r="2.05" fill="#404888" fill-opacity="0.3"/>
<circle cx="918" cy="480" r="2.05" fill="#404888" fill-opacity="0.3"/>
<circle cx="917.7" cy="488.3" r="2.05" fill="#404888" fill-opacity="0.3"/>
<circle cx="925.1" cy="488.3" r="2.05" fill="#404888" fill-opacity="0.3"/>
<circle cx="910.9" cy="488.9" r="2.05" fill="#404888" fill-opacity="0.3"/>
<circle cx="910.9" cy="492.4" r="2.05" fill="#404888" fill-opacity="0.3"/>
<circle cx="1060.1" cy="461.1" r="2.05" fill="#404888" fill-opacity="0.3"/>
<circle cx="1066.3" cy="471.1" r="2.05" fill="#404888" fill-opacity="0.3"/>
<circle cx="1052.7" cy="482" r="2.05" fill="#404888" fill-opacity="0.3"/>
<circle cx="1121.9" cy="398.4" r="2.05" fill="#404888" fill-opacity="0.3"/>
<circle cx="1142.3" cy="429.3" r="2.05" fill="#404888" fill-opacity="0.3"/>
<circle cx="1138.1" cy="451.1" r="2.05" fill="#404888" fill-opacity="0.3"/>
<circle cx="1133.3" cy="466.9" r="2.05" fill="#404888" fill-opacity="0.3"/>
<circle cx="1141.9" cy="468" r="2.05" fill="#404888" fill-opacity="0.3"/>
<circle cx="1142.1" cy="471.3" r="2.05" fill="#404888" fill-opacity="0.3"/>
<circle cx="733.3" cy="470.7" r="4.5" fill="#404888"/>
<circle cx="817.1" cy="496.7" r="4.5" fill="#404888"/>
<circle cx="893.1" cy="479.1" r="4.5" fill="#404888"/>
<line x1="922" y1="476" x2="922" y2="484" stroke="#404888" stroke-width="2"/>
<circle cx="922" cy="481.1" r="4.5" fill="#404888"/>
<line x1="1057.7" y1="464.7" x2="1057.7" y2="476.7" stroke="#404888" stroke-width="2"/>
<circle cx="1057.7" cy="471.3" r="4.5" fill="#404888"/>
<line x1="1131.7" y1="444" x2="1131.7" y2="463.3" stroke="#404888" stroke-width="2"/>
<circle cx="1131.7" cy="453.7" r="4.5" fill="#404888"/>
<text y="414.7" font-size="15.8" fill="#404888"><tspan x="734.40" font-style="italic">R</tspan><tspan x="748.80">=</tspan><tspan x="760.60">0.53,</tspan><tspan x="800.14" font-style="italic">p</tspan><tspan x="812.23">=</tspan><tspan x="823.86">0.00091</tspan></text>
<line x1="733.3" y1="633.7" x2="1131.7" y2="585.5" stroke="#404888" stroke-width="1.9" stroke-dasharray="6.2 6.2"/>
<circle cx="732.4" cy="594.4" r="2.05" fill="#404888" fill-opacity="0.3"/>
<circle cx="738" cy="612.9" r="2.05" fill="#404888" fill-opacity="0.3"/>
<circle cx="728.3" cy="624.3" r="2.05" fill="#404888" fill-opacity="0.3"/>
<circle cx="819.7" cy="597" r="2.05" fill="#404888" fill-opacity="0.3"/>
<circle cx="813.1" cy="619.3" r="2.05" fill="#404888" fill-opacity="0.3"/>
<circle cx="806.9" cy="624.7" r="2.05" fill="#404888" fill-opacity="0.3"/>
<circle cx="811.1" cy="625.7" r="2.05" fill="#404888" fill-opacity="0.3"/>
<circle cx="808.9" cy="631.1" r="2.05" fill="#404888" fill-opacity="0.3"/>
<circle cx="816.4" cy="636.7" r="2.05" fill="#404888" fill-opacity="0.3"/>
<circle cx="825.3" cy="637.3" r="2.05" fill="#404888" fill-opacity="0.3"/>
<circle cx="828.3" cy="638.7" r="2.05" fill="#404888" fill-opacity="0.3"/>
<circle cx="900" cy="619.1" r="2.05" fill="#404888" fill-opacity="0.3"/>
<circle cx="912" cy="611.6" r="2.05" fill="#404888" fill-opacity="0.3"/>
<circle cx="921.6" cy="610.4" r="2.05" fill="#404888" fill-opacity="0.3"/>
<circle cx="921.6" cy="613.7" r="2.05" fill="#404888" fill-opacity="0.3"/>
<circle cx="914.7" cy="618.7" r="2.05" fill="#404888" fill-opacity="0.3"/>
<circle cx="912.7" cy="621.3" r="2.05" fill="#404888" fill-opacity="0.3"/>
<circle cx="911.7" cy="627.1" r="2.05" fill="#404888" fill-opacity="0.3"/>
<circle cx="920" cy="625.7" r="2.05" fill="#404888" fill-opacity="0.3"/>
<circle cx="923.6" cy="627.6" r="2.05" fill="#404888" fill-opacity="0.3"/>
<circle cx="1062.3" cy="594" r="2.05" fill="#404888" fill-opacity="0.3"/>
<circle cx="1051.3" cy="624.7" r="2.05" fill="#404888" fill-opacity="0.3"/>
<circle cx="1137" cy="528.9" r="2.05" fill="#404888" fill-opacity="0.3"/>
<circle cx="1140.3" cy="544" r="2.05" fill="#404888" fill-opacity="0.3"/>
<circle cx="1136.1" cy="567.7" r="2.05" fill="#404888" fill-opacity="0.3"/>
<circle cx="1142.6" cy="576.7" r="2.05" fill="#404888" fill-opacity="0.3"/>
<circle cx="1134.7" cy="590" r="2.05" fill="#404888" fill-opacity="0.3"/>
<circle cx="1127" cy="594.7" r="2.05" fill="#404888" fill-opacity="0.3"/>
<circle cx="1127.3" cy="612.9" r="2.05" fill="#404888" fill-opacity="0.3"/>
<line x1="733.3" y1="606.7" x2="733.3" y2="618.7" stroke="#404888" stroke-width="2"/>
<circle cx="733.3" cy="612.7" r="4.5" fill="#404888"/>
<circle cx="817.1" cy="631.3" r="4.5" fill="#404888"/>
<circle cx="893.1" cy="619.6" r="4.5" fill="#404888"/>
<circle cx="922" cy="619.6" r="4.5" fill="#404888"/>
<line x1="1057.7" y1="605.3" x2="1057.7" y2="622.7" stroke="#404888" stroke-width="2"/>
<circle cx="1057.7" cy="613.7" r="4.5" fill="#404888"/>
<line x1="1131.7" y1="565.6" x2="1131.7" y2="587.3" stroke="#404888" stroke-width="2"/>
<circle cx="1131.7" cy="576.7" r="4.5" fill="#404888"/>
<text y="545.6" font-size="15.8" fill="#404888"><tspan x="734.40" font-style="italic">R</tspan><tspan x="748.80">=</tspan><tspan x="760.60">0.52,</tspan><tspan x="800.14" font-style="italic">p</tspan><tspan x="812.23">=</tspan><tspan x="823.86">0.001</tspan></text>
<rect x="92.6" y="718.3" width="460.79999999999995" height="401.79999999999995" fill="#fff" stroke="#CCCCCC" stroke-width="1.4"/>
<rect x="553.4" y="718.3" width="36.39999999999998" height="401.79999999999995" fill="#D9D9D9"/>
<text x="0" y="0" transform="translate(563.70,918.20) rotate(90)" text-anchor="middle" font-size="22" fill="#1A1A1A">Mg/Ca</text>
<line x1="87.3" y1="806.3" x2="92.6" y2="806.3" stroke="#CCCCCC" stroke-width="1.4"/>
<text x="82.50" y="812.70" text-anchor="end" font-size="18" fill="#4D4D4D">24</text>
<line x1="87.3" y1="903.1" x2="92.6" y2="903.1" stroke="#CCCCCC" stroke-width="1.4"/>
<text x="82.50" y="909.50" text-anchor="end" font-size="18" fill="#4D4D4D">20</text>
<line x1="87.3" y1="999.9" x2="92.6" y2="999.9" stroke="#CCCCCC" stroke-width="1.4"/>
<text x="82.50" y="1006.30" text-anchor="end" font-size="18" fill="#4D4D4D">16</text>
<line x1="87.3" y1="1096.7" x2="92.6" y2="1096.7" stroke="#CCCCCC" stroke-width="1.4"/>
<text x="82.50" y="1103.10" text-anchor="end" font-size="18" fill="#4D4D4D">12</text>
<line x1="95.6" y1="1120.1" x2="95.6" y2="1125.3999999999999" stroke="#CCCCCC" stroke-width="1.4"/>
<text x="95.60" y="1143.70" text-anchor="middle" font-size="18" font-weight="bold" fill="#4D4D4D">50</text>
<line x1="249.0" y1="1120.1" x2="249.0" y2="1125.3999999999999" stroke="#CCCCCC" stroke-width="1.4"/>
<text x="249.00" y="1143.70" text-anchor="middle" font-size="18" font-weight="bold" fill="#4D4D4D">100</text>
<line x1="402.5" y1="1120.1" x2="402.5" y2="1125.3999999999999" stroke="#CCCCCC" stroke-width="1.4"/>
<text x="402.50" y="1143.70" text-anchor="middle" font-size="18" font-weight="bold" fill="#4D4D4D">150</text>
<text x="323.2" y="1171" text-anchor="middle" font-size="20" fill="#000">PHYTOPLANKTON BIOMASS (mg m<tspan font-size="14" dy="-8">3</tspan><tspan dy="8">)</tspan></text>
<text x="0" y="0" transform="translate(13.90,919.20) rotate(-90)" text-anchor="middle" font-size="20" fill="#000">Element/Ca ratio</text>
<line x1="125" y1="989.2" x2="523.4" y2="862.6" stroke="#404888" stroke-width="1.9" stroke-dasharray="6.2 6.2"/>
<circle cx="150.7" cy="881.7" r="2.05" fill="#404888" fill-opacity="0.3"/>
<circle cx="164.2" cy="903" r="2.05" fill="#404888" fill-opacity="0.3"/>
<circle cx="164" cy="923" r="2.05" fill="#404888" fill-opacity="0.3"/>
<circle cx="157.5" cy="937" r="2.05" fill="#404888" fill-opacity="0.3"/>
<circle cx="170.3" cy="938.3" r="2.05" fill="#404888" fill-opacity="0.3"/>
<circle cx="150.8" cy="946.2" r="2.05" fill="#404888" fill-opacity="0.3"/>
<circle cx="170" cy="960" r="2.05" fill="#404888" fill-opacity="0.3"/>
<circle cx="169.8" cy="999.7" r="2.05" fill="#404888" fill-opacity="0.3"/>
<circle cx="159.8" cy="1042.8" r="2.05" fill="#404888" fill-opacity="0.3"/>
<circle cx="130.3" cy="1054.7" r="2.05" fill="#404888" fill-opacity="0.3"/>
<circle cx="116.7" cy="1068.7" r="2.05" fill="#404888" fill-opacity="0.3"/>
<circle cx="132.3" cy="1085.8" r="2.05" fill="#404888" fill-opacity="0.3"/>
<circle cx="131.7" cy="1103.3" r="2.05" fill="#404888" fill-opacity="0.3"/>
<circle cx="363" cy="735.8" r="2.05" fill="#404888" fill-opacity="0.3"/>
<circle cx="346.2" cy="780" r="2.05" fill="#404888" fill-opacity="0.3"/>
<circle cx="344.7" cy="785" r="2.05" fill="#404888" fill-opacity="0.3"/>
<circle cx="348.3" cy="882.5" r="2.05" fill="#404888" fill-opacity="0.3"/>
<circle cx="350.6" cy="914" r="2.05" fill="#404888" fill-opacity="0.3"/>
<circle cx="409.2" cy="824.7" r="2.05" fill="#404888" fill-opacity="0.3"/>
<circle cx="406.3" cy="852.5" r="2.05" fill="#404888" fill-opacity="0.3"/>
<circle cx="346.2" cy="923" r="2.05" fill="#404888" fill-opacity="0.3"/>
<circle cx="326.2" cy="955" r="2.05" fill="#404888" fill-opacity="0.3"/>
<circle cx="330" cy="958.8" r="2.05" fill="#404888" fill-opacity="0.3"/>
<circle cx="328" cy="963.3" r="2.05" fill="#404888" fill-opacity="0.3"/>
<circle cx="329.5" cy="968.7" r="2.05" fill="#404888" fill-opacity="0.3"/>
<circle cx="311.7" cy="970" r="2.05" fill="#404888" fill-opacity="0.3"/>
<circle cx="316.3" cy="978" r="2.05" fill="#404888" fill-opacity="0.3"/>
<circle cx="312.5" cy="983.8" r="2.05" fill="#404888" fill-opacity="0.3"/>
<circle cx="316.2" cy="987" r="2.05" fill="#404888" fill-opacity="0.3"/>
<circle cx="321.7" cy="991.2" r="2.05" fill="#404888" fill-opacity="0.3"/>
<circle cx="533.7" cy="990" r="2.05" fill="#404888" fill-opacity="0.3"/>
<circle cx="533.7" cy="995.6" r="2.05" fill="#404888" fill-opacity="0.3"/>
<line x1="162" y1="923" x2="162" y2="952" stroke="#404888" stroke-width="2"/>
<circle cx="162" cy="937.8" r="4.5" fill="#404888"/>
<line x1="125" y1="1067.2" x2="125" y2="1087.8" stroke="#404888" stroke-width="2"/>
<circle cx="125" cy="1077.5" r="4.5" fill="#404888"/>
<line x1="352.2" y1="815.8" x2="352.2" y2="870" stroke="#404888" stroke-width="2"/>
<circle cx="352.2" cy="843" r="4.5" fill="#404888"/>
<line x1="403.7" y1="815" x2="403.7" y2="834.3" stroke="#404888" stroke-width="2"/>
<circle cx="403.7" cy="824.7" r="4.5" fill="#404888"/>
<circle cx="322.2" cy="970.8" r="4.5" fill="#404888"/>
<circle cx="523.4" cy="992.8" r="4.5" fill="#404888"/>
<text y="752.3" font-size="15.8" fill="#404888"><tspan x="125.90" font-style="italic">R</tspan><tspan x="140.30">=</tspan><tspan x="152.10">0.51,</tspan><tspan x="191.64" font-style="italic">p</tspan><tspan x="203.73">=</tspan><tspan x="215.36">0.0016</tspan></text>
<rect x="701.7" y="718.2" width="460.39999999999986" height="198.0999999999999" fill="#fff" stroke="#CCCCCC" stroke-width="1.4"/>
<rect x="1162.5" y="718.2" width="36.299999999999955" height="198.0999999999999" fill="#D9D9D9"/>
<text x="0" y="0" transform="translate(1172.75,816.25) rotate(90)" text-anchor="middle" font-size="22" fill="#1A1A1A">Mg/Ca</text>
<rect x="701.7" y="928.2" width="460.39999999999986" height="198.20000000000005" fill="#fff" stroke="#CCCCCC" stroke-width="1.4"/>
<rect x="1162.5" y="928.2" width="36.299999999999955" height="198.20000000000005" fill="#D9D9D9"/>
<text x="0" y="0" transform="translate(1172.75,1026.30) rotate(90)" text-anchor="middle" font-size="22" fill="#1A1A1A">Sr/Ca</text>
<line x1="696.4000000000001" y1="746.0" x2="701.7" y2="746.0" stroke="#CCCCCC" stroke-width="1.4"/>
<text x="691.60" y="752.40" text-anchor="end" font-size="18" fill="#4D4D4D">50</text>
<line x1="696.4000000000001" y1="790.8" x2="701.7" y2="790.8" stroke="#CCCCCC" stroke-width="1.4"/>
<text x="691.60" y="797.20" text-anchor="end" font-size="18" fill="#4D4D4D">40</text>
<line x1="696.4000000000001" y1="835.6" x2="701.7" y2="835.6" stroke="#CCCCCC" stroke-width="1.4"/>
<text x="691.60" y="842.00" text-anchor="end" font-size="18" fill="#4D4D4D">30</text>
<line x1="696.4000000000001" y1="880.4" x2="701.7" y2="880.4" stroke="#CCCCCC" stroke-width="1.4"/>
<text x="691.60" y="886.80" text-anchor="end" font-size="18" fill="#4D4D4D">20</text>
<line x1="696.4000000000001" y1="941.4" x2="701.7" y2="941.4" stroke="#CCCCCC" stroke-width="1.4"/>
<text x="691.60" y="947.80" text-anchor="end" font-size="18" fill="#4D4D4D">5</text>
<line x1="696.4000000000001" y1="987.75" x2="701.7" y2="987.75" stroke="#CCCCCC" stroke-width="1.4"/>
<text x="691.60" y="994.15" text-anchor="end" font-size="18" fill="#4D4D4D">4</text>
<line x1="696.4000000000001" y1="1034.1" x2="701.7" y2="1034.1" stroke="#CCCCCC" stroke-width="1.4"/>
<text x="691.60" y="1040.50" text-anchor="end" font-size="18" fill="#4D4D4D">3</text>
<line x1="696.4000000000001" y1="1080.45" x2="701.7" y2="1080.45" stroke="#CCCCCC" stroke-width="1.4"/>
<text x="691.60" y="1086.85" text-anchor="end" font-size="18" fill="#4D4D4D">2</text>
<line x1="696.4000000000001" y1="1126.8" x2="701.7" y2="1126.8" stroke="#CCCCCC" stroke-width="1.4"/>
<text x="691.60" y="1133.20" text-anchor="end" font-size="18" fill="#4D4D4D">1</text>
<line x1="742.5" y1="1126.4" x2="742.5" y2="1131.7" stroke="#CCCCCC" stroke-width="1.4"/>
<text x="742.50" y="1149.20" text-anchor="middle" font-size="18" font-weight="bold" fill="#4D4D4D">6.9</text>
<line x1="836.3" y1="1126.4" x2="836.3" y2="1131.7" stroke="#CCCCCC" stroke-width="1.4"/>
<text x="836.30" y="1149.20" text-anchor="middle" font-size="18" font-weight="bold" fill="#4D4D4D">7.0</text>
<line x1="930.4" y1="1126.4" x2="930.4" y2="1131.7" stroke="#CCCCCC" stroke-width="1.4"/>
<text x="930.40" y="1149.20" text-anchor="middle" font-size="18" font-weight="bold" fill="#4D4D4D">7.1</text>
<line x1="1024.2" y1="1126.4" x2="1024.2" y2="1131.7" stroke="#CCCCCC" stroke-width="1.4"/>
<text x="1024.20" y="1149.20" text-anchor="middle" font-size="18" font-weight="bold" fill="#4D4D4D">7.2</text>
<line x1="1117.9" y1="1126.4" x2="1117.9" y2="1131.7" stroke="#CCCCCC" stroke-width="1.4"/>
<text x="1117.90" y="1149.20" text-anchor="middle" font-size="18" font-weight="bold" fill="#4D4D4D">7.3</text>
<text x="932.3" y="1170.8" text-anchor="middle" font-size="20" fill="#000">SALINITY (psu)</text>
<text x="0" y="0" transform="translate(624.00,922.30) rotate(-90)" text-anchor="middle" font-size="20" fill="#000">Element/Ca ratio</text>
<line x1="731.3" y1="890.8" x2="1133.3" y2="804.5" stroke="#3BBB75" stroke-width="1.9" stroke-dasharray="6.2 6.2"/>
<path d="M736.70,861.47L739.38,866.12L734.02,866.12ZM737.50,865.97L740.18,870.62L734.82,870.62ZM739.20,888.17L741.88,892.82L736.52,892.82ZM803.30,863.47L805.98,868.12L800.62,868.12ZM814.20,858.47L816.88,863.12L811.52,863.12ZM817.20,865.97L819.88,870.62L814.52,870.62ZM835.30,824.38L837.98,829.02L832.62,829.02ZM842.00,862.38L844.68,867.02L839.32,867.02ZM922.20,881.38L924.88,886.02L919.52,886.02ZM911.30,890.17L913.98,894.82L908.62,894.82ZM911.70,905.17L914.38,909.82L909.02,909.82ZM1037.00,812.97L1039.68,817.62L1034.32,817.62ZM1028.80,820.17L1031.48,824.82L1026.12,824.82ZM1020.80,836.38L1023.48,841.02L1018.12,841.02ZM1030.50,852.38L1033.18,857.02L1027.82,857.02ZM1019.20,864.38L1021.88,869.02L1016.52,869.02ZM1030.30,867.97L1032.98,872.62L1027.62,872.62ZM1142.00,723.47L1144.68,728.12L1139.32,728.12ZM1140.50,759.88L1143.18,764.52L1137.82,764.52ZM1130.00,772.67L1132.68,777.32L1127.32,777.32ZM1127.50,775.67L1130.18,780.32L1124.82,780.32ZM1139.20,784.38L1141.88,789.02L1136.52,789.02ZM1125.30,798.97L1127.98,803.62L1122.62,803.62ZM1135.50,804.38L1138.18,809.02L1132.82,809.02ZM1130.30,823.47L1132.98,828.12L1127.62,828.12ZM1126.70,827.97L1129.38,832.62L1124.02,832.62Z" fill="#3BBB75" fill-opacity="0.3"/>
<line x1="731.2" y1="866" x2="731.2" y2="876" stroke="#3BBB75" stroke-width="2"/>
<path d="M731.20,864.50L737.00,874.55L725.40,874.55Z" fill="#3BBB75"/>
<path d="M812.20,860.20L818.00,870.25L806.40,870.25Z" fill="#3BBB75"/>
<line x1="835.3" y1="826.7" x2="835.3" y2="865" stroke="#3BBB75" stroke-width="2"/>
<path d="M835.30,839.70L841.10,849.75L829.50,849.75Z" fill="#3BBB75"/>
<line x1="918.3" y1="887" x2="918.3" y2="896.7" stroke="#3BBB75" stroke-width="2"/>
<path d="M918.30,885.00L924.10,895.05L912.50,895.05Z" fill="#3BBB75"/>
<line x1="1028" y1="831.7" x2="1028" y2="847" stroke="#3BBB75" stroke-width="2"/>
<path d="M1028.00,832.90L1033.80,842.95L1022.20,842.95Z" fill="#3BBB75"/>
<line x1="1133.3" y1="776.7" x2="1133.3" y2="797.5" stroke="#3BBB75" stroke-width="2"/>
<path d="M1133.30,781.30L1139.10,791.35L1127.50,791.35Z" fill="#3BBB75"/>
<text y="762.5" font-size="15.8" fill="#3BBB75"><tspan x="732.50" font-style="italic">R</tspan><tspan x="746.90">=</tspan><tspan x="758.70">0.75,</tspan><tspan x="798.24" font-style="italic">p</tspan><tspan x="810.33">=</tspan><tspan x="821.96">1.6e-06</tspan></text>
<line x1="731.3" y1="1004.7" x2="1133.3" y2="1085.3" stroke="#3BBB75" stroke-width="1.9" stroke-dasharray="6.2 6.2"/>
<path d="M730.00,933.47L732.68,938.12L727.32,938.12ZM737.00,934.38L739.68,939.02L734.32,939.02ZM725.80,986.47L728.48,991.12L723.12,991.12ZM726.20,1011.47L728.88,1016.12L723.52,1016.12ZM819.20,1031.88L821.88,1036.53L816.52,1036.53ZM810.00,1040.18L812.68,1044.83L807.32,1044.83ZM817.50,1050.68L820.18,1055.33L814.82,1055.33ZM813.70,1055.18L816.38,1059.83L811.02,1059.83ZM836.30,987.67L838.98,992.32L833.62,992.32ZM844.70,1001.38L847.38,1006.02L842.02,1006.02ZM917.50,1072.68L920.18,1077.33L914.82,1077.33ZM918.30,1085.98L920.98,1090.62L915.62,1090.62ZM915.80,1111.48L918.48,1116.12L913.12,1116.12ZM918.70,1115.48L921.38,1120.12L916.02,1120.12ZM1018.80,1019.38L1021.48,1024.03L1016.12,1024.03ZM1025.50,1022.18L1028.18,1026.83L1022.82,1026.83ZM1035.00,1022.18L1037.68,1026.83L1032.32,1026.83ZM1020.00,1051.48L1022.68,1056.12L1017.32,1056.12ZM1021.30,1058.48L1023.98,1063.12L1018.62,1063.12ZM1036.30,1053.48L1038.98,1058.12L1033.62,1058.12ZM1023.30,1105.18L1025.98,1109.83L1020.62,1109.83ZM1125.30,1041.38L1127.98,1046.03L1122.62,1046.03ZM1129.70,1065.18L1132.38,1069.83L1127.02,1069.83ZM1140.00,1073.48L1142.68,1078.12L1137.32,1078.12ZM1133.30,1075.18L1135.98,1079.83L1130.62,1079.83ZM1139.70,1084.38L1142.38,1089.03L1137.02,1089.03ZM1138.80,1092.38L1141.48,1097.03L1136.12,1097.03ZM1132.80,1096.88L1135.48,1101.53L1130.12,1101.53Z" fill="#3BBB75" fill-opacity="0.3"/>
<line x1="731.2" y1="944.2" x2="731.2" y2="983" stroke="#3BBB75" stroke-width="2"/>
<path d="M731.20,956.70L737.00,966.75L725.40,966.75Z" fill="#3BBB75"/>
<path d="M812.20,1041.50L818.00,1051.55L806.40,1051.55Z" fill="#3BBB75"/>
<line x1="835.3" y1="992" x2="835.3" y2="1004.7" stroke="#3BBB75" stroke-width="2"/>
<path d="M835.30,990.80L841.10,1000.85L829.50,1000.85Z" fill="#3BBB75"/>
<line x1="918.3" y1="1091.3" x2="918.3" y2="1111.7" stroke="#3BBB75" stroke-width="2"/>
<path d="M918.30,1095.00L924.10,1105.05L912.50,1105.05Z" fill="#3BBB75"/>
<line x1="1028" y1="1043" x2="1028" y2="1065.3" stroke="#3BBB75" stroke-width="2"/>
<path d="M1028.00,1048.10L1033.80,1058.15L1022.20,1058.15Z" fill="#3BBB75"/>
<line x1="1133.3" y1="1080" x2="1133.3" y2="1089.2" stroke="#3BBB75" stroke-width="2"/>
<path d="M1133.30,1077.00L1139.10,1087.05L1127.50,1087.05Z" fill="#3BBB75"/>
<line x1="758.80" y1="969.10" x2="765.60" y2="969.10" stroke="#3BBB75" stroke-width="1.2"/>
<text y="973" font-size="15.8" fill="#3BBB75"><tspan x="732.00" font-style="italic">R</tspan><tspan x="746.40">=</tspan><tspan x="768.10">0.6,</tspan><tspan x="798.85" font-style="italic">p</tspan><tspan x="810.94">=</tspan><tspan x="822.57">0.00046</tspan></text>
<text x="346" y="1266.6" font-size="18" fill="#000">Species</text>
<rect x="418.8" y="1246.8" width="28.4" height="28.4" fill="#fff" stroke="#CCCCCC" stroke-width="2.2"/>
<line x1="421.9" y1="1261" x2="427.9" y2="1261" stroke="#404888" stroke-width="1.9"/>
<line x1="433.0" y1="1250.2" x2="433.0" y2="1271.8" stroke="#404888" stroke-width="2"/>
<circle cx="433.0" cy="1261" r="4.6" fill="#404888"/>
<circle cx="444.2" cy="1261" r="0.9" fill="#404888" fill-opacity="0.3"/>
<text x="457.0" y="1267.5" font-size="19.5" font-style="italic" fill="#000">Amphibalanus improvisus</text>
<rect x="689.3000000000001" y="1246.8" width="28.4" height="28.4" fill="#fff" stroke="#CCCCCC" stroke-width="2.2"/>
<line x1="692.4000000000001" y1="1261" x2="698.4000000000001" y2="1261" stroke="#3BBB75" stroke-width="1.9"/>
<line x1="703.5" y1="1250.2" x2="703.5" y2="1271.8" stroke="#3BBB75" stroke-width="2"/>
<path d="M703.50,1254.30L708.87,1263.60L698.13,1263.60Z" fill="#3BBB75"/>
<circle cx="714.3000000000001" cy="1261" r="0.9" fill="#3BBB75" fill-opacity="0.3"/>
<text x="727.6" y="1267.5" font-size="19.5" font-style="italic" fill="#000">Einhornia crustulenta</text>
</svg>
</body></html>
